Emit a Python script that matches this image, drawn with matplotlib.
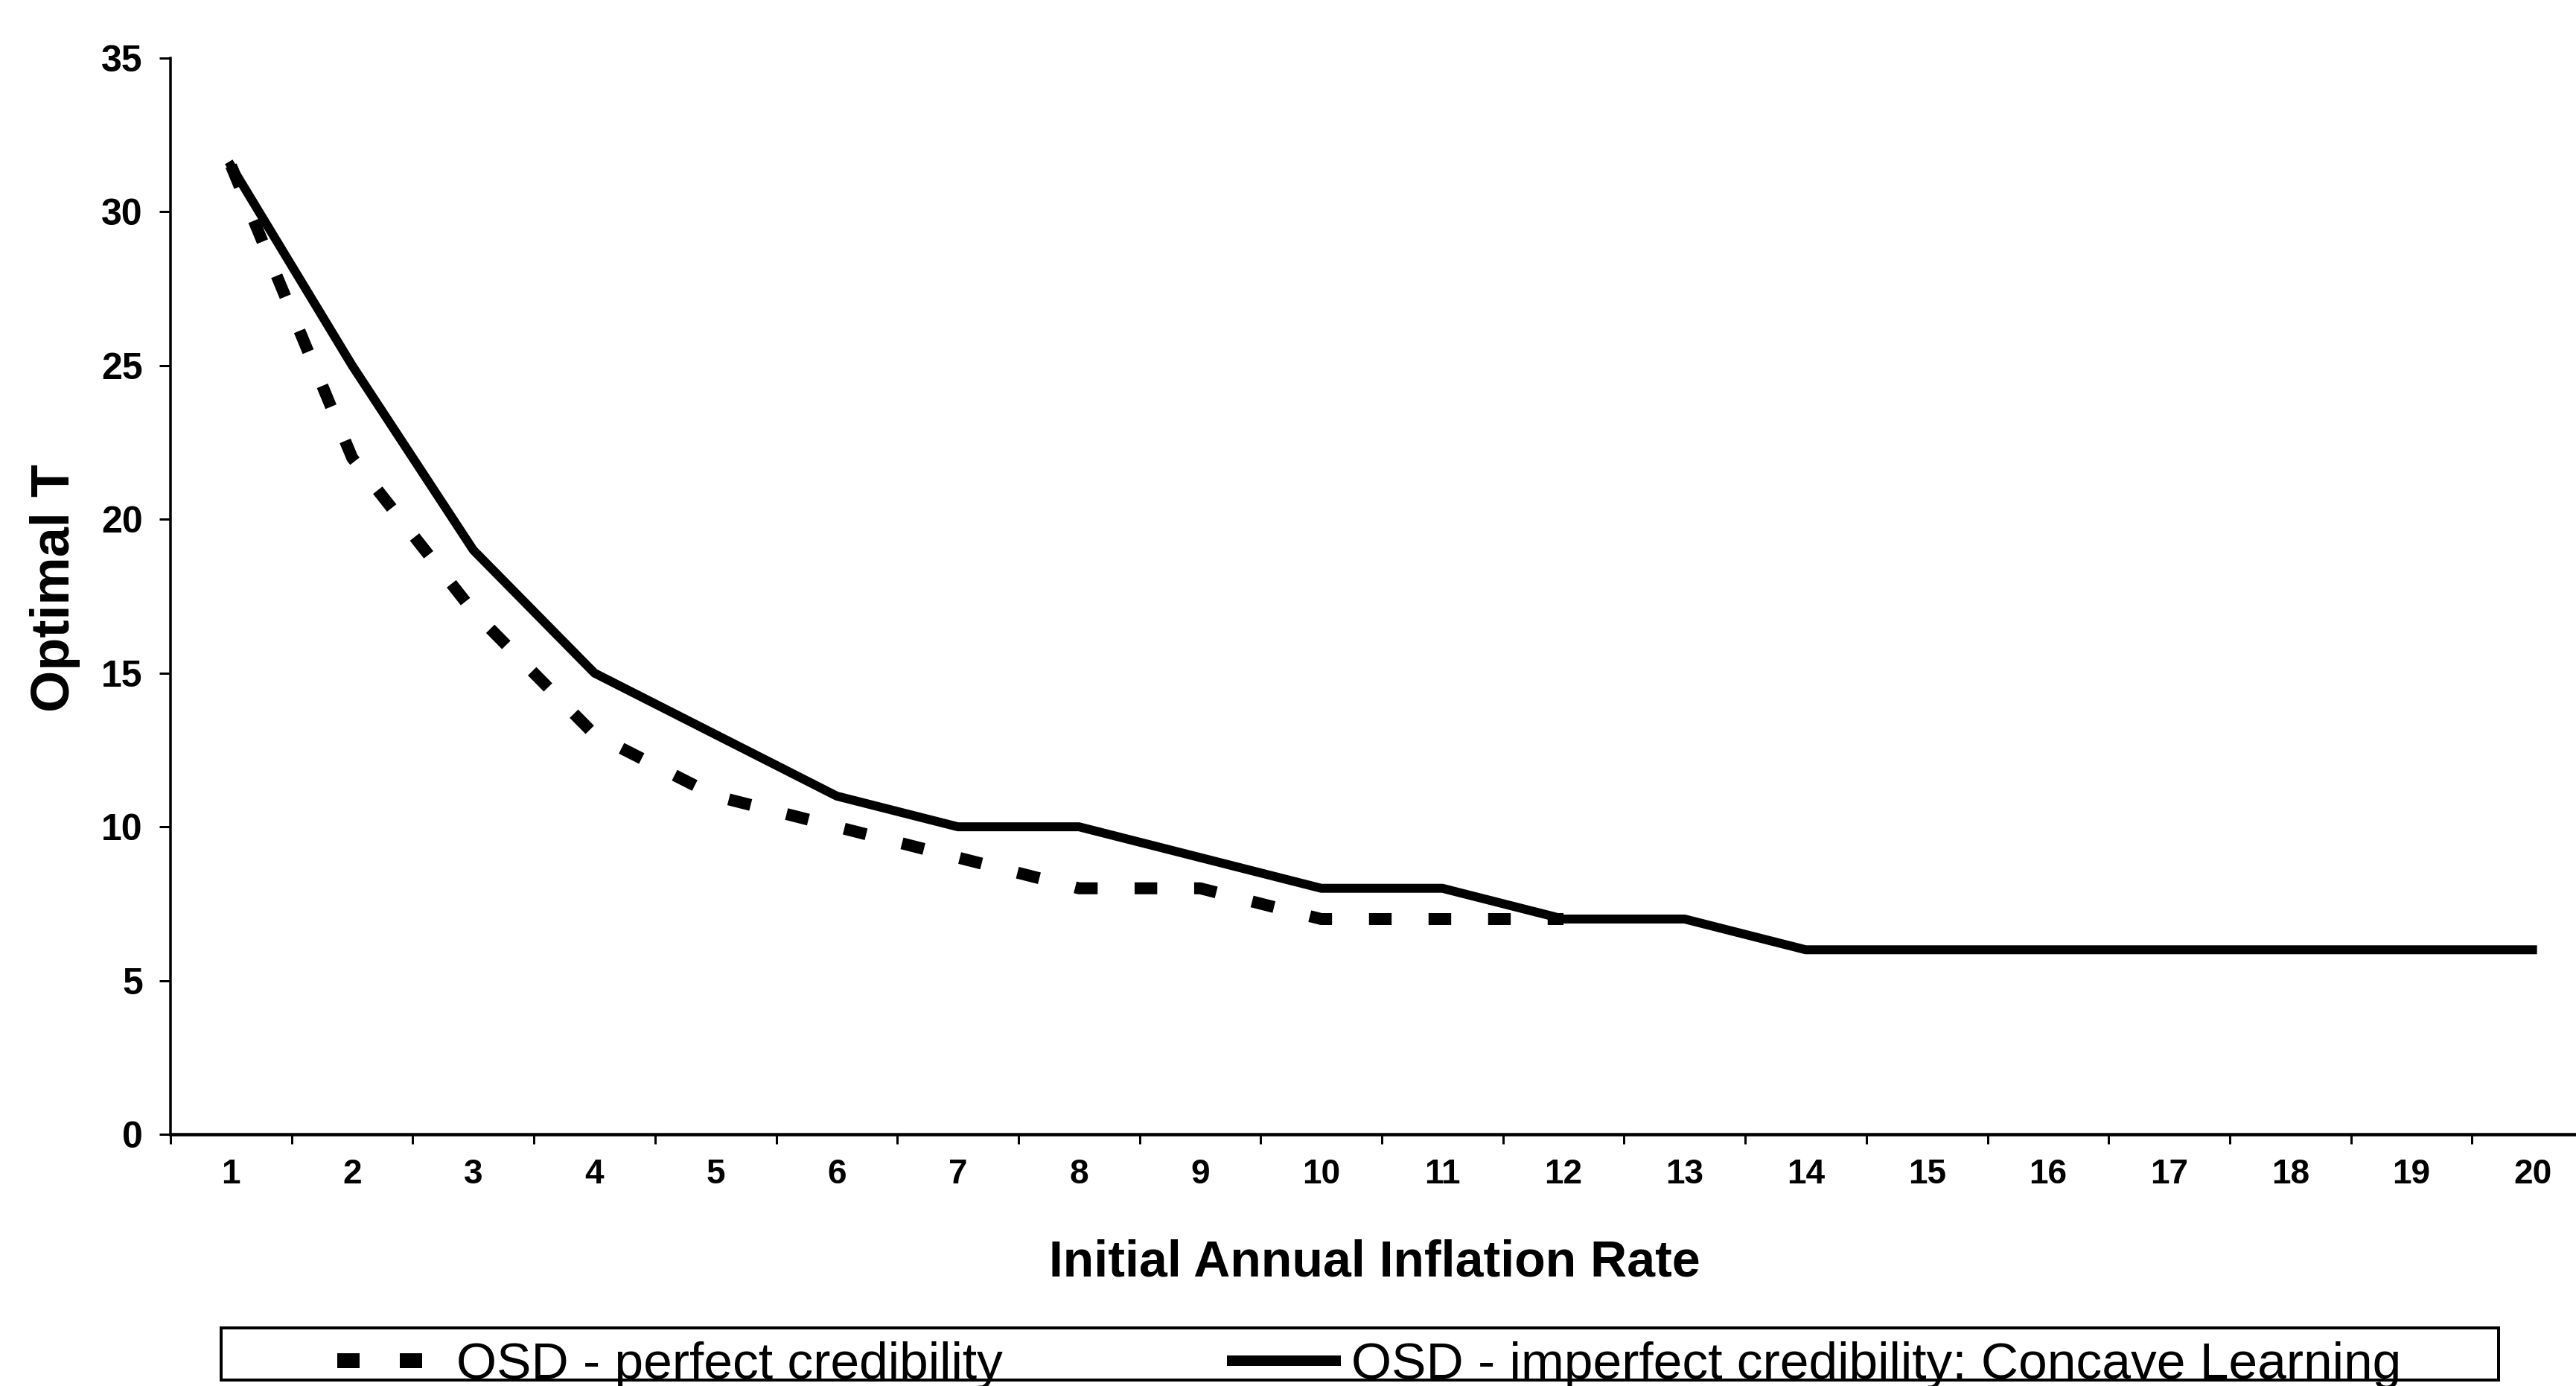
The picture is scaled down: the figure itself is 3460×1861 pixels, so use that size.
import numpy as np
import matplotlib
matplotlib.use("Agg")
import matplotlib.pyplot as plt
from matplotlib.lines import Line2D
from matplotlib.patches import Rectangle

# optimal T against the initial annual inflation rate
inflation = list(range(1, 21))
perfect = [31.5, 22, 17, 13, 11, 10, 9, 8, 8, 7, 7, 7]   # series stops at 12
imperfect = [31.5, 25, 19, 15, 13, 11, 10, 10, 9, 8, 8, 7, 7, 6, 6, 6, 6, 6, 6, 6]
yticks = [0, 5, 10, 15, 20, 25, 30, 35]

label_perfect = "OSD - perfect credibility"
label_imperfect = "OSD - imperfect credibility: Concave Learning"

W, H = 3460, 1861
plt.rcParams['font.family'] = ['Liberation Sans', 'DejaVu Sans']

fig = plt.figure(figsize=(W / 100, H / 100), dpi=100)
fig.patch.set_facecolor('white')

# pixel box of the plot area
left, right, top, bottom = 229, 3483, 78, 1523
ax = fig.add_axes([left / W, 1 - bottom / H, (right - left) / W, (bottom - top) / H])

px = 72 / 100  # one pixel in points

ax.plot(inflation[:len(perfect)], perfect, color='black', lw=16 * px,
        dashes=(1.9, 3.1), dash_capstyle='butt')
ax.plot(inflation, imperfect, color='black', lw=12 * px, solid_joinstyle='round')

ax.set_xlim(0.5, 20.5)
ax.set_ylim(0, 35)

for s in ['top', 'right']:
    ax.spines[s].set_visible(False)
ax.spines['left'].set_linewidth(3.5 * px)
ax.spines['bottom'].set_linewidth(4.5 * px)

# category axis: ticks between categories, labels centred on them
ax.set_xticks(np.arange(0.5, 21, 1))
ax.set_xticklabels([])
ax.set_xticks(inflation, minor=True)
ax.set_xticklabels([str(v) for v in inflation], minor=True,
                   fontweight='bold', fontsize=33)
ax.tick_params(axis='x', which='major', direction='out', length=13 * px, width=3 * px)
ax.tick_params(axis='x', which='minor', length=0, pad=23)

ax.set_yticks(yticks)
ax.set_yticklabels([str(v) for v in yticks], fontweight='bold', fontsize=36)
ax.tick_params(axis='y', direction='out', length=15 * px, width=3 * px, pad=16)

ax.set_xlabel("Initial Annual Inflation Rate", fontsize=49, fontweight='bold')
ax.xaxis.set_label_coords((1846 - left) / (right - left), -(1664 - bottom) / (bottom - top))
ax.xaxis.label.set_va('top')

ax.set_ylabel("Optimal T", fontsize=52, fontweight='bold')
ax.yaxis.set_label_coords(-(left - 108) / (right - left), (bottom - 789) / (bottom - top))

# legend: two single-entry legends inside one hand-drawn frame
h_perfect = Line2D([], [], color='black', lw=20 * px, dashes=(1.5, 2.7), dash_capstyle='butt')
h_imperfect = Line2D([], [], color='black', lw=14 * px)
common = dict(loc='upper left', frameon=False, borderpad=0, borderaxespad=0,
              handlelength=2.0, handletextpad=0.3, fontsize=50)
fig.legend([h_perfect], [label_perfect], bbox_to_anchor=(453 / W, 1 - 1801 / H), **common)
fig.legend([h_imperfect], [label_imperfect], bbox_to_anchor=(1655 / W, 1 - 1801 / H), **common)
fig.add_artist(Rectangle((297 / W, 1 - 1853 / H), (3356 - 297) / W, (1853 - 1783) / H,
                         transform=fig.transFigure, fill=False, ec='black', lw=4 * px))

fig.savefig("out.png", dpi=100, facecolor='white')
